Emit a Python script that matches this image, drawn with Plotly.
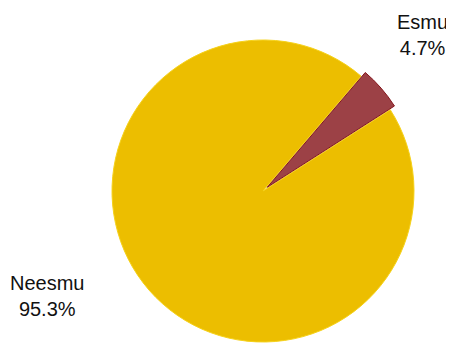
import plotly.graph_objects as go

labels = ["Esmu", "Neesmu"]
values = [4.7, 95.3]
slice_colors = ["#9C4146", "#ECBE00"]
edge_colors = ["#85161C", "#F6D21A"]

OFF = 8  # default page body margin
W, H = 454 - OFF, 343 - OFF
cx, cy, r = 263 - OFF, 191 - OFF, 151
dx, dy = 4.2, -3.7  # offset of the exploded slice


def dom(cx_, cy_):
    return dict(x=[(cx_ - r) / W, (cx_ + r) / W],
                y=[max(0, 1 - (cy_ + r) / H), 1 - (cy_ - r) / H])


fig = go.Figure()
fig.add_trace(go.Pie(
    labels=labels, values=values, sort=False, direction="clockwise", rotation=40.5,
    marker=dict(colors=["rgba(0,0,0,0)", slice_colors[1]],
                line=dict(color=["rgba(0,0,0,0)", edge_colors[1]], width=[0, 1])),
    textinfo="none", hoverinfo="label+percent", domain=dom(cx, cy), showlegend=False))
fig.add_trace(go.Pie(
    labels=labels, values=values, sort=False, direction="clockwise", rotation=40.5,
    marker=dict(colors=[slice_colors[0], "rgba(0,0,0,0)"],
                line=dict(color=[edge_colors[0], "rgba(0,0,0,0)"], width=[1, 0])),
    textinfo="none", hoverinfo="label+percent", domain=dom(cx + dx, cy + dy), showlegend=False))

label_pos = {"Esmu": (422 - OFF, 35 - OFF), "Neesmu": (46.5 - OFF, 295.5 - OFF)}
for lab, v in zip(labels, values):
    px, py = label_pos[lab]
    fig.add_annotation(x=px / W, y=1 - py / H, xref="paper", yref="paper",
                       text=f"{lab}<br>{v}%", showarrow=False, xanchor="center", yanchor="middle",
                       font=dict(family="Liberation Sans, Arial", size=20, color="#111111"))

fig.update_layout(width=W, height=H, margin=dict(l=0, r=0, t=0, b=0),
                  paper_bgcolor="white", plot_bgcolor="white")
fig.write_html("out.html")
